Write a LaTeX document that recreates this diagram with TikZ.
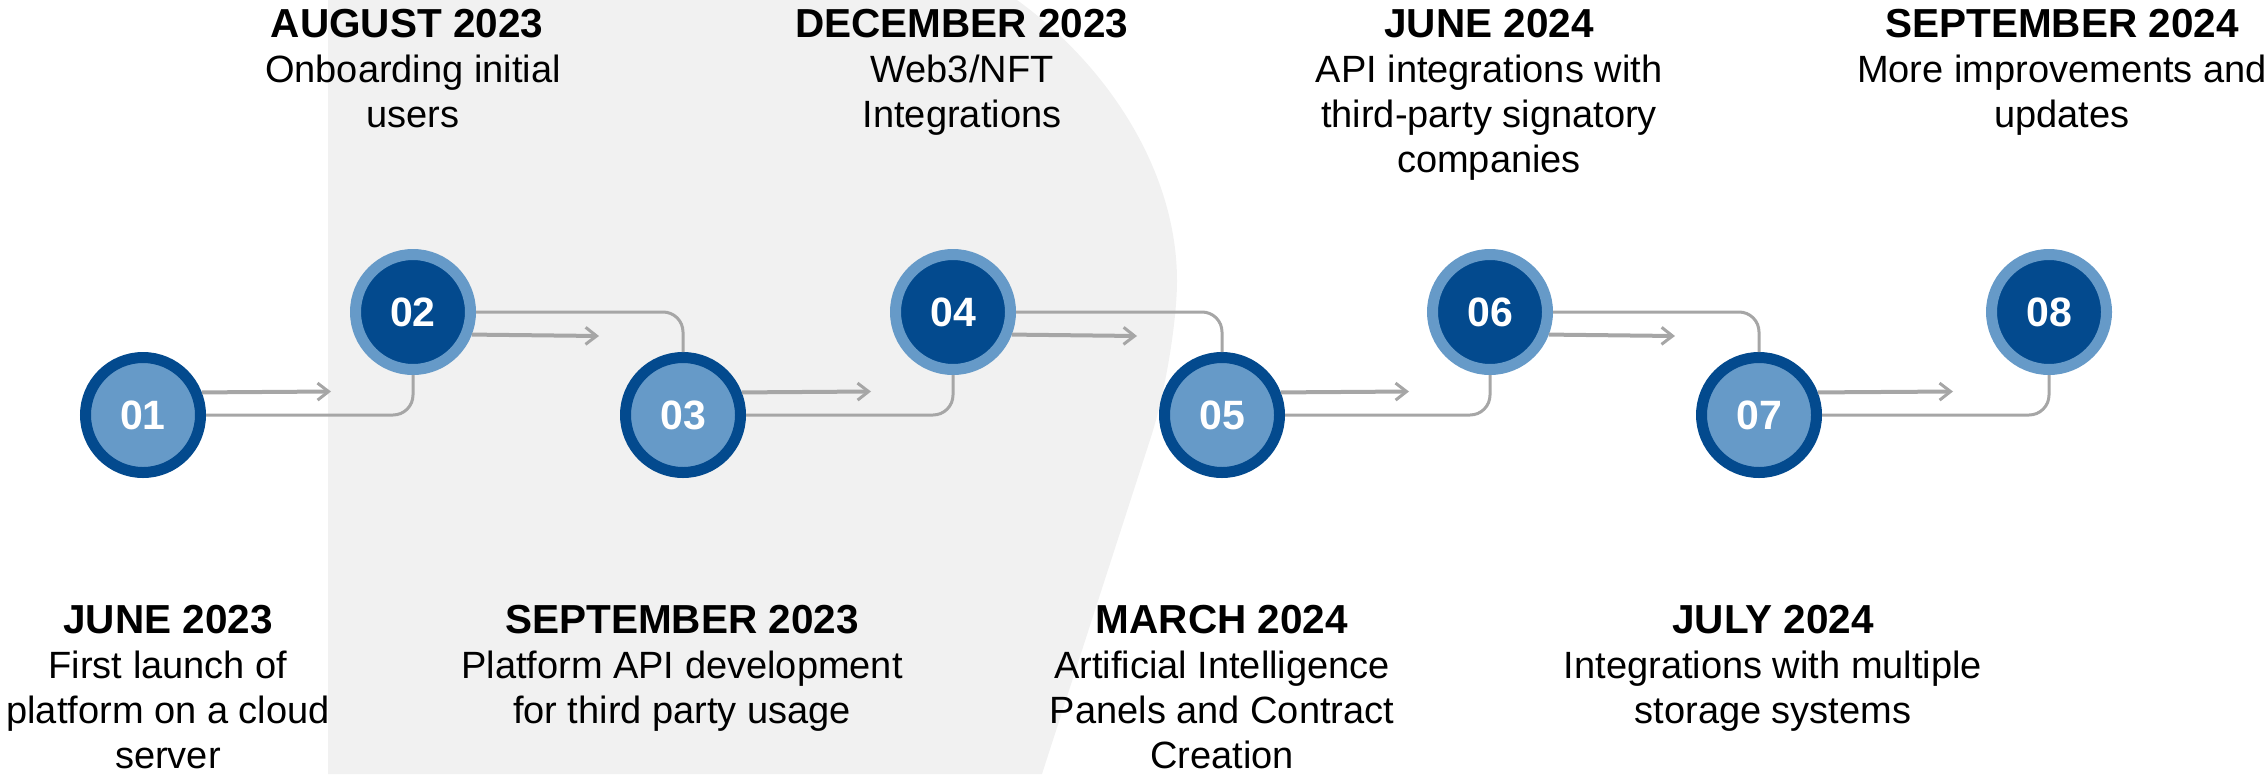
\documentclass[tikz,border=0pt]{standalone}
\usepackage{fontspec}
\setmainfont{Liberation Sans}
\usetikzlibrary{arrows.meta}
\definecolor{tlDark}{RGB}{3,74,142}
\definecolor{tlLight}{RGB}{102,154,200}
\definecolor{tlLine}{RGB}{166,166,166}
\definecolor{tlBg}{RGB}{241,241,241}
\newcommand\tlTitle{\fontsize{40.5}{45}\selectfont\bfseries}
\newcommand\tlBody{\fontsize{38}{45}\selectfont}
\newcommand\tlNum{\fontsize{41}{45}\selectfont\bfseries}
\begin{document}
\begin{tikzpicture}[x=1pt,y=-1pt,
  ring/.style={circle, minimum size=115pt, inner sep=0pt, line width=11pt, outer sep=5.5pt, font=\tlNum, text=white},
  oddc/.style={ring, draw=tlDark, fill=tlLight},
  evenc/.style={ring, draw=tlLight, fill=tlDark},
  conn/.style={draw=tlLine, line width=3pt, rounded corners=20pt},
  arr/.style={draw=tlLine, line width=4pt, -{Straight Barb[length=11pt,width=17pt,line width=3pt]}},
  ttl/.style={font=\tlTitle, anchor=base, inner sep=0pt},
  txt/.style={font=\tlBody, anchor=base, inner sep=0pt}]
\useasboundingbox (0,0) rectangle (2267,774);
% background shape
\fill[tlBg] (328,0) -- (1017,0) .. controls (1108,66) and (1177,171) .. (1177,281)
  .. controls (1177,321) and (1165,395) .. (1150,440) -- (1042,774) -- (328,774) -- cycle;
% milestones
\node[oddc]  (c1) at (143,415)  {01};
\node[evenc] (c2) at (413,312)  {02};
\node[oddc]  (c3) at (683,415)  {03};
\node[evenc] (c4) at (953,312)  {04};
\node[oddc]  (c5) at (1222,415) {05};
\node[evenc] (c6) at (1490,312) {06};
\node[oddc]  (c7) at (1759,415) {07};
\node[evenc] (c8) at (2049,312) {08};
% arrow ends
\coordinate (a1) at (331,391.5);
\coordinate (a2) at (599,336);
\coordinate (a3) at (871,391.5);
\coordinate (a4) at (1137,336);
\coordinate (a5) at (1409,391.5);
\coordinate (a6) at (1675,336);
\coordinate (a7) at (1953,391.5);
% connectors
\draw[conn] (c1.east) -| (c2.south);
\draw[conn] (c2.east) -| (c3.north);
\draw[conn] (c3.east) -| (c4.south);
\draw[conn] (c4.east) -| (c5.north);
\draw[conn] (c5.east) -| (c6.south);
\draw[conn] (c6.east) -| (c7.north);
\draw[conn] (c7.east) -| (c8.south);
\draw[arr] (c1.21.9) -- (a1);
\draw[arr] (c2.-21.9) -- (a2);
\draw[arr] (c3.21.9) -- (a3);
\draw[arr] (c4.-21.9) -- (a4);
\draw[arr] (c5.21.9) -- (a5);
\draw[arr] (c6.-21.9) -- (a6);
\draw[arr] (c7.21.9) -- (a7);
% texts bottom
\node[ttl] (t1) at (168,633) {JUNE 2023};
\node[txt] (t1a) at (168,678) {First launch of};
\node[txt] (t1b) at (168,723) {platform on a cloud};
\node[txt] (t1c) at (168,768) {server};
\node[ttl] (t3) at (682,633) {SEPTEMBER 2023};
\node[txt] (t3a) at (682,678) {Platform API development};
\node[txt] (t3b) at (682,723) {for third party usage};
\node[ttl] (t5) at (1222,633) {MARCH 2024};
\node[txt] (t5a) at (1222,678) {Artificial Intelligence};
\node[txt] (t5b) at (1222,723) {Panels and Contract};
\node[txt] (t5c) at (1222,768) {Creation};
\node[ttl] (t7) at (1773,633) {JULY 2024};
\node[txt] (t7a) at (1773,678) {Integrations with multiple};
\node[txt] (t7b) at (1773,723) {storage systems};
% texts top
\node[ttl] (t2) at (407,37) {AUGUST 2023};
\node[txt] (t2a) at (413,82) {Onboarding initial};
\node[txt] (t2b) at (413,127) {users};
\node[ttl] (t4) at (962,37) {DECEMBER 2023};
\node[txt] (t4a) at (962,82) {Web3/NFT};
\node[txt] (t4b) at (962,127) {Integrations};
\node[ttl] (t6) at (1489,37) {JUNE 2024};
\node[txt] (t6a) at (1489,82) {API integrations with};
\node[txt] (t6b) at (1489,127) {third-party signatory};
\node[txt] (t6c) at (1489,172) {companies};
\node[ttl] (t8) at (2062,37) {SEPTEMBER 2024};
\node[txt] (t8a) at (2062,82) {More improvements and};
\node[txt] (t8b) at (2062,127) {updates};
\end{tikzpicture}
\end{document}
